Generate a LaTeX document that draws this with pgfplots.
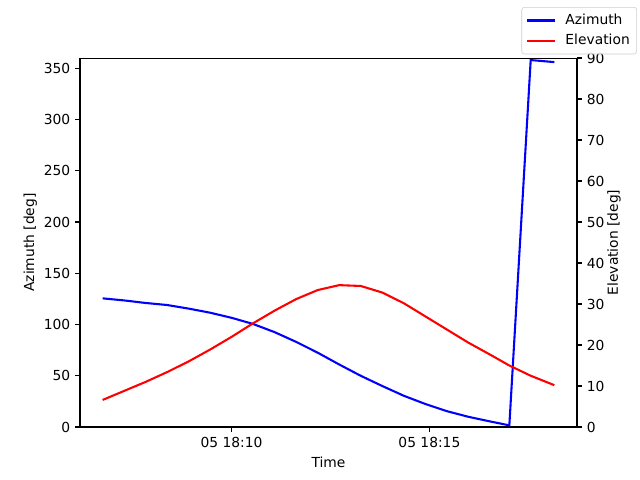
\documentclass[border=0pt]{standalone}
\usepackage{fontspec}
\setmainfont{DejaVu Sans}
\usepackage{pgfplots}
\pgfplotsset{compat=1.18}

% time in minutes after 18:00 on day 05
\pgfplotstableread{
t        az     el
6.742    125.5  6.6
7.285    123.5  8.8
7.829    121.0  11.0
8.374    119.0  13.4
8.917    115.5  16.0
9.460    111.5  18.9
10.003   106.5  22.0
10.545   100.5  25.3
11.091   92.5   28.4
11.634   83.0   31.2
12.177   72.5   33.4
12.720   61.0   34.6
13.263   50.0   34.4
13.808   40.0   32.8
14.351   30.5   30.2
14.894   22.5   27.0
15.437   15.5   23.8
15.980   10.0   20.6
16.525   5.5    17.7
17.020   1.6    15.0
17.560   358.0  12.5
18.157   356.0  10.2
}\pass

\pgfplotsset{
  common/.style={
    scale only axis, width=357.84bp, height=265.68bp,
    at={(0,0)}, anchor=south west,
    xmin=6.17, xmax=18.73,
    xtick={10,15}, xticklabels={05 18:10, 05 18:15},
    tick align=outside, major tick length=3.5bp,
    every tick/.style={black, line width=0.8bp},
    axis line style={line width=0.8bp},
    tick label style={font=\fontsize{10}{12}\selectfont},
    label style={font=\fontsize{10}{12}\selectfont},
    /pgf/number format/assume math mode=true,
  },
}

\begin{document}
\begin{tikzpicture}
\path[use as bounding box] (-57.6bp,-38.16bp) rectangle (403.2bp,307.44bp);
\begin{axis}[common,
    axis y line*=left, axis x line*=bottom,
    ymin=0, ymax=360, ytick={0,50,...,350},
    xlabel={Time}, ylabel={Azimuth [deg]},
    every axis y label/.style={at={(rel axis cs:-0.1,0.5)}, rotate=90, anchor=center},
]
\addplot[blue, line width=1.5bp] table[x=t, y=az] {\pass};
\draw[line width=0.8bp] (rel axis cs:0,1) -- (rel axis cs:1,1);
\end{axis}
\begin{axis}[common,
    axis y line*=right, axis x line=none,
    ymin=0, ymax=90, ytick={0,10,...,90},
    ylabel={Elevation [deg]},
    every axis y label/.style={at={(rel axis cs:1.0744,0.5)}, rotate=90, anchor=center},
    legend style={at={(rel axis cs:1.1207,1.1382)}, anchor=north east,
      draw=black!20, rounded corners=2bp, fill=white, fill opacity=0.8,
      text opacity=1, font=\fontsize{10}{12}\selectfont,
      row sep=1.5bp, inner sep=3bp, column sep=5bp,
      nodes={inner sep=2bp}},
    legend cell align=left,
    legend image code/.code={\draw[#1] (0bp,0bp) -- (20bp,0bp);},
]
\addlegendimage{blue, line width=1.5bp}
\addlegendentry{Azimuth}
\addplot[red, line width=1.5bp] table[x=t, y=el] {\pass};
\addlegendentry{Elevation}
\end{axis}
\end{tikzpicture}
\end{document}
